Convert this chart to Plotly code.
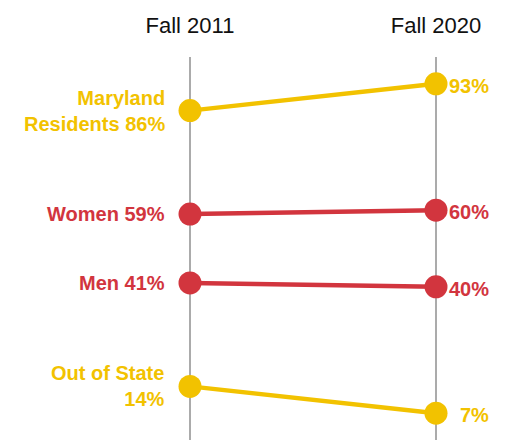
import plotly.graph_objects as go

periods = ["Fall 2011", "Fall 2020"]
groups = ["Maryland Residents", "Women", "Men", "Out of State"]
v2011 = [86, 59, 41, 14]
v2020 = [93, 60, 40, 7]
colors = ["#F2C200", "#D2353E", "#D2353E", "#F2C200"]
left_labels = ["Maryland<br>Residents 86%", "Women 59%", "Men 41%", "Out of State<br>14%"]
right_labels = ["93%", "60%", "40%", "7%"]

xpos = [0, 1]
FONT = "Liberation Sans, Arial, sans-serif"

fig = go.Figure()
annotations = []
for i, g in enumerate(groups):
    fig.add_trace(go.Scatter(
        x=xpos, y=[v2011[i], v2020[i]], name=g,
        mode="lines+markers",
        line=dict(color=colors[i], width=4.5),
        marker=dict(color=colors[i], size=23),
        hoverinfo="skip", showlegend=False, cliponaxis=False,
    ))
    annotations.append(dict(
        x=xpos[0], y=v2011[i], xref="x", yref="y", text=left_labels[i],
        showarrow=False, xanchor="right", yanchor="middle", align="right",
        xshift=-23, font=dict(family=FONT, size=20, color=colors[i], weight="bold"),
    ))
    annotations.append(dict(
        x=xpos[1], y=v2020[i], xref="x", yref="y", text=right_labels[i],
        showarrow=False, xanchor="right", yanchor="middle", align="right",
        xshift=55, yshift=-2, font=dict(family=FONT, size=20, color=colors[i], weight="bold"),
    ))

# page body has an 8px margin; figure is laid out to sit inside the window
fig.update_layout(
    width=502, height=433,
    margin=dict(l=0, r=0, t=49, b=1),
    paper_bgcolor="white", plot_bgcolor="white",
    annotations=annotations,
    xaxis=dict(
        range=[-182 / 246, 320 / 246], side="top",
        tickvals=xpos, ticktext=periods, ticks="",
        showgrid=True, gridcolor="#ABABAB", gridwidth=2,
        zeroline=False, showline=False,
        tickfont=dict(family=FONT, size=22, color="#111111"),
        ticklabelstandoff=19, fixedrange=True,
    ),
    yaxis=dict(range=[0, 100], showgrid=False, zeroline=False,
               showticklabels=False, showline=False, fixedrange=True),
)

fig.write_html("out.html", config={"displayModeBar": False})
